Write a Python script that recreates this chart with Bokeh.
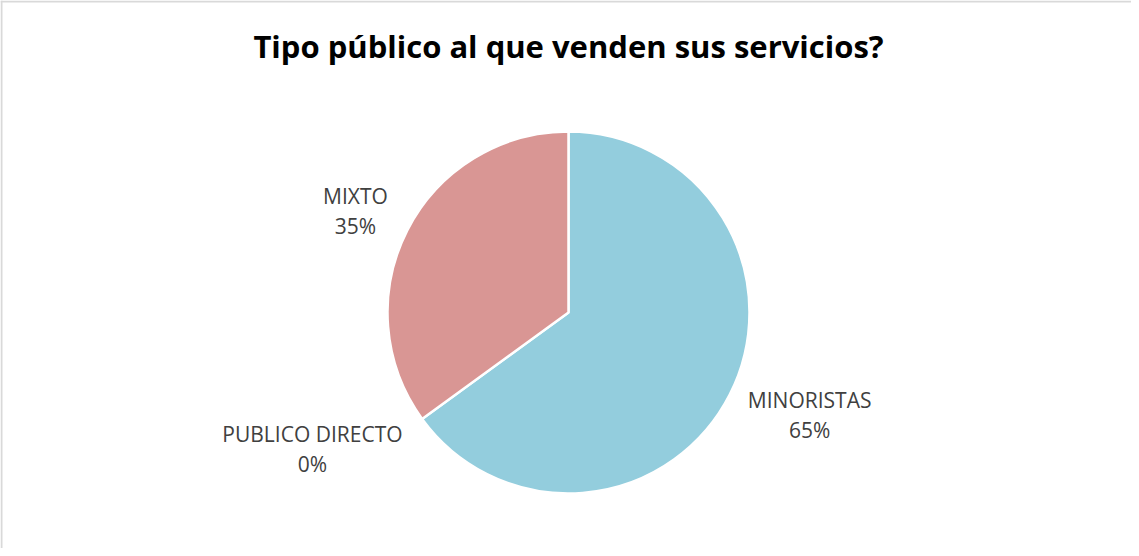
import math
from bokeh.plotting import figure
from bokeh.models import Range1d, Span, ColumnDataSource
from bokeh.core.properties import value
from bokeh.embed import file_html
from bokeh.resources import INLINE

# ---- data ----
title_text = "Tipo público al que venden sus servicios?"
categories = ["MINORISTAS", "PUBLICO DIRECTO", "MIXTO"]
percentages = [65, 0, 35]
colors = ["#93CDDD", "#D99694", "#D99694"]

# ---- layout ----
W, H = 1131, 548
cx, cy = 568, H - 312   # pie centre (data units = pixels)
R = 181
label_dist = [262, 290, 236]
label_shift = [4.0, -8.0, 1.5]  # degrees
line_gap = 15

p = figure(width=W, height=H, output_backend="svg", toolbar_location=None,
           x_range=Range1d(0, W), y_range=Range1d(0, H), min_border=0)
p.axis.visible = False
p.grid.visible = False
p.outline_line_color = None
p.background_fill_color = "white"
p.border_fill_color = "white"

# chart border (left/top visible)
p.add_layout(Span(location=1, dimension="height", line_color="#D9D9D9", line_width=2))
p.add_layout(Span(location=H - 1, dimension="width", line_color="#D9D9D9", line_width=2))

# wedges: start at 12 o'clock, go clockwise
total = sum(percentages)
starts, ends, mids = [], [], []
cur = math.pi / 2
for v in percentages:
    a = 2 * math.pi * v / total
    ends.append(cur)
    starts.append(cur - a)
    mids.append(cur - a / 2)
    cur -= a

keep = [i for i, v in enumerate(percentages) if v > 0]
src = ColumnDataSource(dict(start=[starts[i] for i in keep],
                            end=[ends[i] for i in keep],
                            color=[colors[i] for i in keep],
                            x=[cx] * len(keep), y=[cy] * len(keep)))
p.wedge(x="x", y="y", radius=R, start_angle="start", end_angle="end",
        fill_color="color", line_color="white", line_width=2.5, source=src,
        direction="anticlock")

# labels
lx, ly, names, pcts = [], [], [], []
for i, (c, v) in enumerate(zip(categories, percentages)):
    ang = mids[i] + math.radians(label_shift[i])
    lx.append(cx + label_dist[i] * math.cos(ang))
    ly.append(cy + label_dist[i] * math.sin(ang))
    names.append(c)
    pcts.append(f"{v}%")

p.text(x=lx, y=[y + line_gap for y in ly], text=names, text_align="center",
       text_baseline="middle", text_font=value("Open Sans"),
       text_font_size="21px", text_color="#404040")
p.text(x=lx, y=[y - line_gap for y in ly], text=pcts, text_align="center",
       text_baseline="middle", text_font=value("Open Sans"),
       text_font_size="21px", text_color="#404040")

# title
p.text(x=[cx], y=[H - 45], text=[title_text], text_align="center",
       text_baseline="middle", text_font=value("Open Sans"),
       text_font_size="31px", text_font_style="bold", text_color="#000000")

open("out.html", "w").write(file_html(p, INLINE))
